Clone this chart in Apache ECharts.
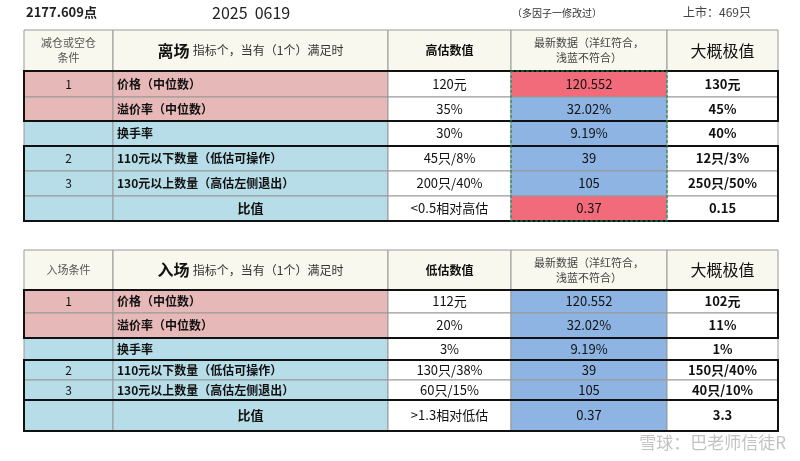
<!DOCTYPE html>
<html><head><meta charset="utf-8">
<script src="https://cdn.jsdelivr.net/npm/echarts@6/dist/echarts.min.js"></script>
<style>html,body{margin:0;background:#fff}#c{width:800px;height:461px}</style>
</head><body><div id="c"></div>
<script>
// data
const indexValue = '2177.609点';
const dateText = '2025  0619';
const noteText = '（多因子一修改过）';
const listedText = '上市：469只';
const rowNos = ['1', '', '', '2', '3', ''];
const rowNames = ['价格（中位数）', '溢价率（中位数）', '换手率', '110元以下数量（低估可操作）', '130元以上数量（高估左侧退出）', '比值'];
const exitThresholds = ['120元', '35%', '30%', '45只/8%', '200只/40%', '<0.5相对高估'];
const exitLatest = ['120.552', '32.02%', '9.19%', '39', '105', '0.37'];
const exitLatestHit = [true, false, false, false, false, true];
const exitExtremes = ['130元', '45%', '40%', '12只/3%', '250只/50%', '0.15'];
const entryNos = ['1', '', '', '2', '3', ''];
const entryThresholds = ['112元', '20%', '3%', '130只/38%', '60只/15%', '>1.3相对低估'];
const entryLatest = ['120.552', '32.02%', '9.19%', '39', '105', '0.37'];
const entryLatestHit = [false, false, false, false, false, false];
const entryExtremes = ['102元', '11%', '1%', '150只/40%', '40只/10%', '3.3'];

// layout
const colEdges = [24, 113, 388, 511, 667, 778];
const topRows = [30, 71, 97, 121, 146, 171, 196, 221];
const botRows = [250, 290, 313, 338, 360, 380, 400, 431];
const PINK = '#e6b8b7', BLUE = '#b7dde8', HEAD = '#f8f8ee', RED = '#f26b7a', LBLUE = '#8db4e2';
const FONT = '"Noto Sans CJK SC", sans-serif';

const cells = [];
function cell(x0, y0, x1, y1, text, o) {
  cells.push(Object.assign({x0, y0, x1, y1, text, fill: '#fff', align: 'center', size: 12, bold: false}, o || {}));
}
function table(rows, title, noHead, valHead, nos, thr, latest, hit, ext, entry) {
  const c = colEdges;
  cell(c[0], rows[0], c[1], rows[1], noHead, {fill: HEAD, color: '#555', size: 11});
  cell(c[1], rows[0], c[2], rows[1], '{t|' + title + '} {s|指标个，当有（1个）满足时}', {fill: HEAD, rich: true});
  cell(c[2], rows[0], c[3], rows[1], valHead, {fill: HEAD, bold: true});
  cell(c[3], rows[0], c[4], rows[1], '最新数据（洋红符合，\n浅蓝不符合）', {fill: HEAD, color: '#444', size: 11});
  cell(c[4], rows[0], c[5], rows[1], '大概极值', {fill: HEAD, size: 16});
  for (let i = 0; i < 6; i++) {
    const bg = i < 2 ? PINK : BLUE;
    const y0 = rows[i + 1], y1 = rows[i + 2];
    cell(c[0], y0, c[1], y1, nos[i], {fill: bg});
    cell(c[1], y0, c[2], y1, rowNames[i], {fill: bg, bold: true, align: i === 5 ? 'center' : 'left', size: i === 5 ? 13 : 12});
    cell(c[2], y0, c[3], y1, thr[i], {size: 13});
    cell(c[3], y0, c[4], y1, latest[i], {fill: hit[i] ? RED : LBLUE, size: 13});
    cell(c[4], y0, c[5], y1, ext[i], {bold: true, size: 13});
  }
  // group frames
  const frames = entry ? [[1, 3], [4, 6], [6, 7]] : [[1, 3], [4, 7]];
  frames.forEach(f => cell(c[0], rows[f[0]], c[5], rows[f[1]], '', {frame: true}));
  if (!entry) cell(c[3], rows[1], c[4], rows[7], '', {dash: true});
}
table(topRows, '离场', '减仓或空仓\n条件', '高估数值', rowNos, exitThresholds, exitLatest, exitLatestHit, exitExtremes, false);
table(botRows, '入场', '入场条件', '低估数值', entryNos, entryThresholds, entryLatest, entryLatestHit, entryExtremes, true);

const chart = echarts.init(document.getElementById('c'));
chart.setOption({
  animation: false,
  grid: {left: 0, right: 0, top: 0, bottom: 0},
  xAxis: {type: 'value', min: 0, max: 800, show: false},
  yAxis: {type: 'value', min: 0, max: 461, inverse: true, show: false},
  graphic: [
    {type: 'text', left: 26, top: 6, style: {text: indexValue, font: 'bold 13px ' + FONT, fill: '#222'}},
    {type: 'text', left: 212, top: 5, style: {text: dateText, font: '16px ' + FONT, fill: '#222'}},
    {type: 'text', left: 512, top: 8, style: {text: noteText, font: '10px ' + FONT, fill: '#333'}},
    {type: 'text', left: 683, top: 6, style: {text: listedText, font: '12px ' + FONT, fill: '#444'}},
    {type: 'text', right: 14, bottom: 10, style: {text: '雪球：巴老师信徒R', font: '17px ' + FONT, fill: 'rgba(120,120,120,0.45)'}}
  ],
  series: [{
    type: 'custom',
    coordinateSystem: 'cartesian2d',
    data: cells.map(c => [c.x0, c.y0, c.x1, c.y1]),
    renderItem: function (params, api) {
      const d = cells[params.dataIndex];
      const p0 = api.coord([api.value(0), api.value(1)]);
      const p1 = api.coord([api.value(2), api.value(3)]);
      const shape = {x: p0[0], y: p0[1], width: p1[0] - p0[0], height: p1[1] - p0[1]};
      if (d.frame) return {type: 'rect', shape, style: {fill: 'none', stroke: '#111', lineWidth: 2}, z2: 10};
      if (d.dash) return {type: 'rect', shape, style: {fill: 'none', stroke: '#1f8a5a', lineWidth: 1.2, lineDash: [3, 2]}, z2: 11};
      const tx = d.align === 'left' ? p0[0] + 4 : (p0[0] + p1[0]) / 2;
      const textStyle = d.rich ? {
        text: d.text, x: tx, y: (p0[1] + p1[1]) / 2, align: 'center', verticalAlign: 'middle',
        rich: {t: {font: 'bold 16px ' + FONT, fill: '#111'}, s: {font: '12px ' + FONT, fill: '#333'}}
      } : {
        text: d.text, x: tx, y: (p0[1] + p1[1]) / 2, align: d.align, verticalAlign: 'middle',
        font: (d.bold ? 'bold ' : '') + d.size + 'px ' + FONT, fill: d.color || '#111', lineHeight: d.size + 4
      };
      return {type: 'group', children: [
        {type: 'rect', shape, style: {fill: d.fill, stroke: '#999', lineWidth: 1}},
        {type: 'text', style: textStyle, z2: 5}
      ]};
    }
  }]
});
</script>
</body></html>
